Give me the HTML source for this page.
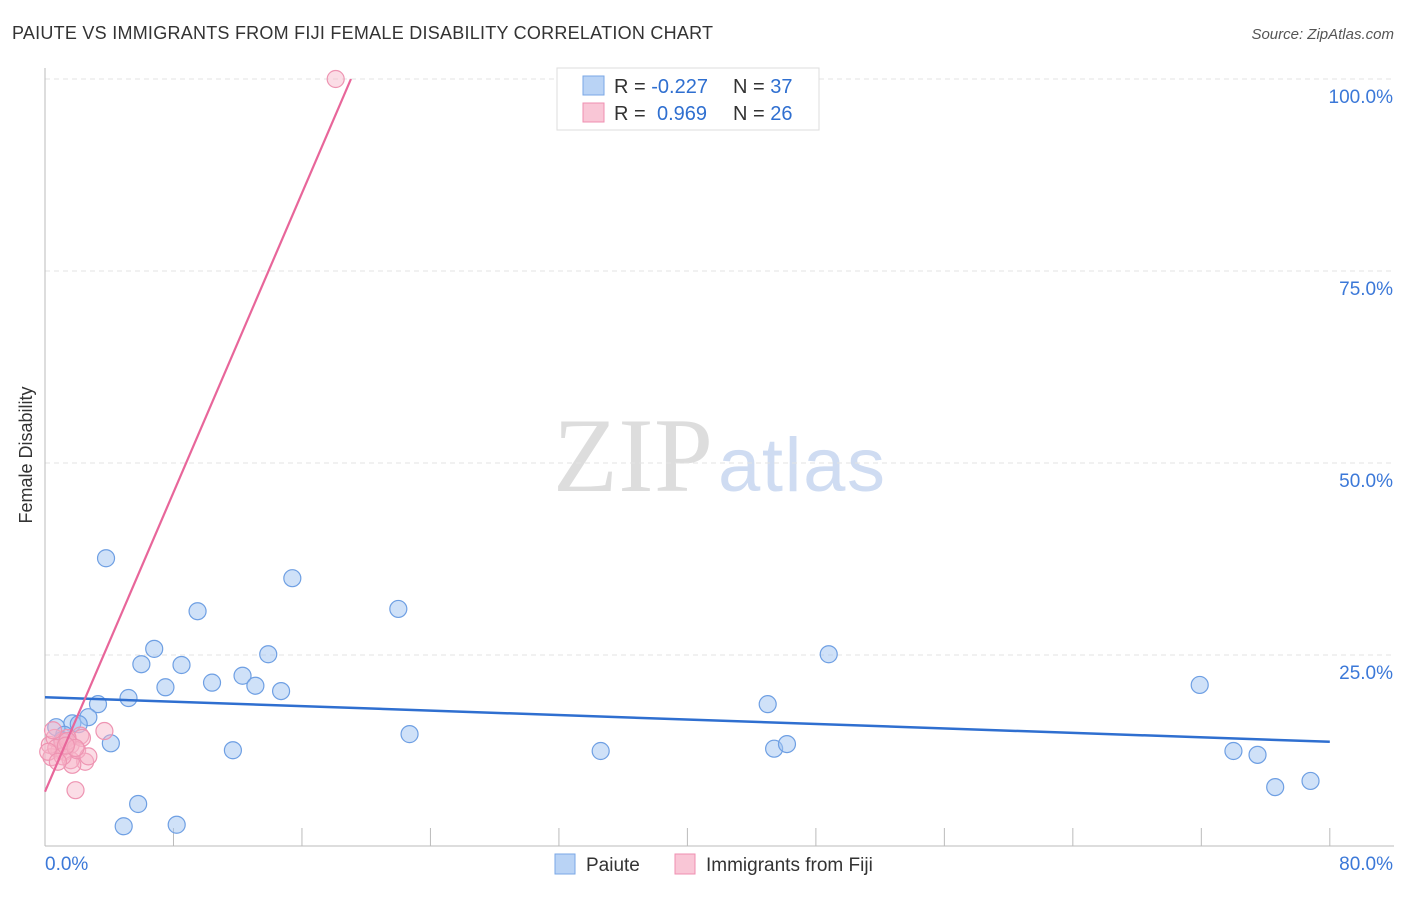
<!DOCTYPE html>
<html><head><meta charset="utf-8"><style>
body{margin:0;background:#fff;font-family:"Liberation Sans",sans-serif;}
</style></head><body>
<svg id="c" width="1406" height="892" xmlns="http://www.w3.org/2000/svg" font-family="Liberation Sans, sans-serif">
<text x="12" y="39" font-size="18" fill="#333" textLength="701">PAIUTE VS IMMIGRANTS FROM FIJI FEMALE DISABILITY CORRELATION CHART</text>
<text x="1394" y="39" font-size="15" fill="#555" text-anchor="end" font-style="italic">Source: ZipAtlas.com</text>
<text x="32" y="455" font-size="18" fill="#333" text-anchor="middle" transform="rotate(-90 32 455)">Female Disability</text>
<text x="553" y="491" font-size="106" fill="#ddd" font-family="Liberation Serif, serif" textLength="160">ZIP</text>
<text x="718" y="491" font-size="76" fill="#cfdcf2" textLength="167">atlas</text>
<g id="grid"></g><g id="axes"></g><g id="pts"></g><g id="lines"></g>
<g>
<rect x="557" y="68" width="262" height="62" fill="#fff" stroke="#ddd"/>
<rect x="583" y="76" width="21" height="19" fill="#b9d3f5" stroke="#7aa7e6"/>
<rect x="583" y="103" width="21" height="19" fill="#f9c6d6" stroke="#ef8fb0"/>
<text x="614" y="93" font-size="20" fill="#333">R = <tspan fill="#2f6fd0">-0.227</tspan></text>
<text x="733" y="93" font-size="20" fill="#333">N = <tspan fill="#2f6fd0">37</tspan></text>
<text x="614" y="120" font-size="20" fill="#333">R = <tspan fill="#2f6fd0" x="657">0.969</tspan></text>
<text x="733" y="120" font-size="20" fill="#333">N = <tspan fill="#2f6fd0">26</tspan></text>
</g>
<g>
<rect x="555" y="854" width="20" height="20" fill="#b9d3f5" stroke="#7aa7e6"/>
<text x="586" y="871" font-size="19" fill="#333">Paiute</text>
<rect x="675" y="854" width="20" height="20" fill="#f9c6d6" stroke="#ef8fb0"/>
<text x="706" y="871" font-size="19" fill="#333">Immigrants from Fiji</text>
</g>
</svg>
<script>
const yTicks=[25,50,75,100];
const yTickLabels=["25.0%","50.0%","75.0%","100.0%"];
const xTicks=[0,8,16,24,32,40,48,56,64,72,80];
const paiuteX=[3.8,15.4,9.5,22.0,6.8,13.9,48.8,6.0,8.5,7.5,10.4,12.3,13.1,14.7,5.2,3.3,45.0,71.9,2.7,1.7,0.7,2.1,4.1,22.7,11.7,34.6,45.4,46.2,74.0,75.5,76.6,78.8,5.8,4.9,8.2,1.2,1.06];
const paiuteY=[37.6,35.0,30.7,31.0,25.8,25.1,25.1,23.8,23.7,20.8,21.4,22.3,21.0,20.3,19.4,18.6,18.6,21.1,16.9,16.1,15.6,16.0,13.5,14.7,12.6,12.5,12.8,13.4,12.5,12.0,7.8,8.6,5.6,2.7,2.9,14.6,13.9];
const fijiX=[18.1,3.7,1.9,2.5,2.2,1.6,0.9,0.4,0.3,0.6,1.2,1.6,1.1,0.7,1.7,2.3,1.4,0.2,0.5,2.0,1.1,0.8,2.7,1.4,1.9,1.3];
const fijiY=[100,15.1,7.4,11.1,14.5,13.3,12.6,11.7,13.3,14.2,12.4,11.3,13.7,12.9,10.7,14.2,14.2,12.4,15.2,12.6,11.8,11.1,11.8,13.8,12.9,13.2];
const paiuteTrend=[[0,19.5],[80,13.7]];
const fijiTrend=[[0,7.2],[19.05,100]];
const NS="http://www.w3.org/2000/svg";
const X=v=>45+v*16.06, Y=v=>847-v*7.68;
function mk(tag,attrs,parent){const e=document.createElementNS(NS,tag);for(const k in attrs)e.setAttribute(k,attrs[k]);document.getElementById(parent).appendChild(e);return e;}
yTicks.forEach((t,i)=>{
 const l=mk('line',{x1:45,x2:1394,y1:Y(t),y2:Y(t),stroke:'#e3e3e3','stroke-dasharray':'5,4'},'grid');
 
 
 const tx=mk('text',{x:1393,y:Y(t)+24,'font-size':19,fill:'#3b78d8','text-anchor':'end'},'axes');
 tx.textContent=yTickLabels[i];
 
 
});
let a=mk('line',{x1:45,x2:45,y1:68,y2:846,stroke:'#bbb'},'axes');


a=mk('line',{x1:45,x2:1394,y1:846,y2:846,stroke:'#bbb'},'axes');


xTicks.forEach(t=>{const l=mk('line',{x1:X(t),x2:X(t),y1:828,y2:846,stroke:'#bbb'},'axes');
 
 });
let t=mk('text',{x:45,y:870,'font-size':19,fill:'#3b78d8'},'axes');t.textContent='0.0%';


t=mk('text',{x:1393,y:870,'font-size':19,fill:'#3b78d8','text-anchor':'end'},'axes');t.textContent='80.0%';


paiuteX.forEach((v,i)=>{const c=mk('circle',{cx:X(v),cy:Y(paiuteY[i]),r:8.5,fill:'rgba(160,196,242,0.5)',stroke:'#6e9fe3','stroke-width':1.2},'pts');
 
 });
fijiX.forEach((v,i)=>{const c=mk('circle',{cx:X(v),cy:Y(fijiY[i]),r:8.5,fill:'rgba(246,180,200,0.45)',stroke:'#ee94b2','stroke-width':1.2},'pts');
 
 });
let ln=mk('line',{x1:X(paiuteTrend[0][0]),y1:Y(paiuteTrend[0][1]),x2:X(paiuteTrend[1][0]),y2:Y(paiuteTrend[1][1]),stroke:'#2f6fd0','stroke-width':2.5},'lines');


ln=mk('line',{x1:X(fijiTrend[0][0]),y1:Y(fijiTrend[0][1]),x2:X(fijiTrend[1][0]),y2:Y(fijiTrend[1][1]),stroke:'#e8669a','stroke-width':2.2},'lines');


</script>
</body></html>
